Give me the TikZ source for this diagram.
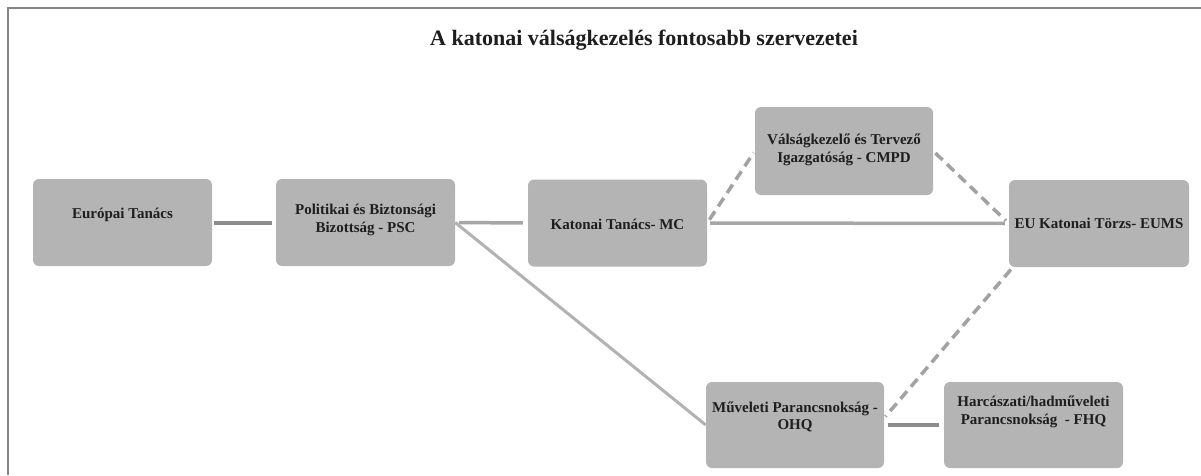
\documentclass[tikz,border=0pt]{standalone}
\usepackage{fontspec}
\setmainfont{Liberation Serif}
\definecolor{boxfill}{HTML}{B4B4B4}
\definecolor{txt}{HTML}{1E1E1E}
\definecolor{darkln}{HTML}{8C8C8C}
\definecolor{midln}{HTML}{A6A6A6}
\definecolor{lightln}{HTML}{B2B2B2}
\definecolor{dashln}{HTML}{A2A2A2}
\definecolor{frame}{HTML}{858585}
\begin{document}
\begin{tikzpicture}[x=1pt,y=-1pt,
  orgbox/.style={fill=boxfill,rounded corners=6pt,minimum width=179pt,minimum height=87pt,inner sep=0pt,draw=none},
  boxtxt/.style={text=txt,font=\bfseries\fontsize{15}{17.5}\selectfont,align=center,inner sep=0pt},
  darkline/.style={draw=darkln,line width=4pt},
  midline/.style={draw=midln,line width=3.5pt},
  lightline/.style={draw=lightln,line width=3pt},
  dashline/.style={draw=dashln,line width=3.5pt,dash pattern=on 10pt off 6pt}]
\useasboundingbox (0,0) rectangle (1201,475);
\fill[white] (0,0) rectangle (1201,475);
\coordinate (ftl) at (8,8);
\coordinate (ftr) at (1201,8);
\coordinate (fbl) at (8,475);
\draw[frame,line width=2pt] (fbl) -- (ftl) -- (ftr);
\node[text=txt,font=\bfseries\fontsize{22}{26}\selectfont] (title) at (644,40) {A katonai válságkezelés fontosabb szervezetei};
\node[orgbox] (et) at (122.5,222.5) {};
\node[orgbox] (psc) at (365.5,222.5) {};
\node[orgbox] (mc) at (617.5,223) {};
\node[orgbox,minimum width=178pt,minimum height=88pt] (cmpd) at (844,151) {};
\node[orgbox,minimum width=180pt] (eums) at (1099,223.5) {};
\node[orgbox,minimum width=178pt,minimum height=86pt] (ohq) at (795,425) {};
\node[orgbox,minimum width=179pt,minimum height=86pt] (fhq) at (1033.5,425) {};
\node[boxtxt] (et-t) at (122.5,215) {Európai Tanács};
\node[boxtxt] (psc-t) at (365.5,220) {Politikai és Biztonsági\\Bizottság - PSC};
\node[boxtxt] (mc-t) at (617.5,224) {Katonai Tanács- MC};
\node[boxtxt] (cmpd-t) at (844,150) {Válságkezelő és Tervező\\Igazgatóság - CMPD};
\node[boxtxt] (eums-t) at (1099,223) {EU Katonai Törzs- EUMS};
\node[boxtxt] (ohq-t) at (795,417) {Műveleti Parancsnokság -\\OHQ};
\node[boxtxt] (fhq-t) at (1033.5,412) {Harcászati/hadműveleti\\Parancsnokság \ - FHQ};
\draw[darkline,shorten <=2pt,shorten >=4pt] (et.east) -- (psc.west);
\draw[midline,shorten <=4pt,shorten >=5pt] (psc.east) -- (mc.west);
\draw[lightline] (psc.east) -- (ohq.west);
\draw[midline,shorten <=3pt,shorten >=4pt] (mc.east) -- (eums.west);
\draw[dashline,shorten <=4pt,shorten >=2pt] (mc.east) -- (cmpd.west);
\draw[dashline,shorten <=3pt,shorten >=4pt] (cmpd.east) -- (eums.west);
\draw[dashline,shorten <=3pt,shorten >=2pt] ([xshift=4pt]eums.south west) -- ([yshift=7pt]ohq.east);
\draw[darkline,shorten <=4pt,shorten >=5pt] (ohq.east) -- (fhq.west);
\end{tikzpicture}
\end{document}
